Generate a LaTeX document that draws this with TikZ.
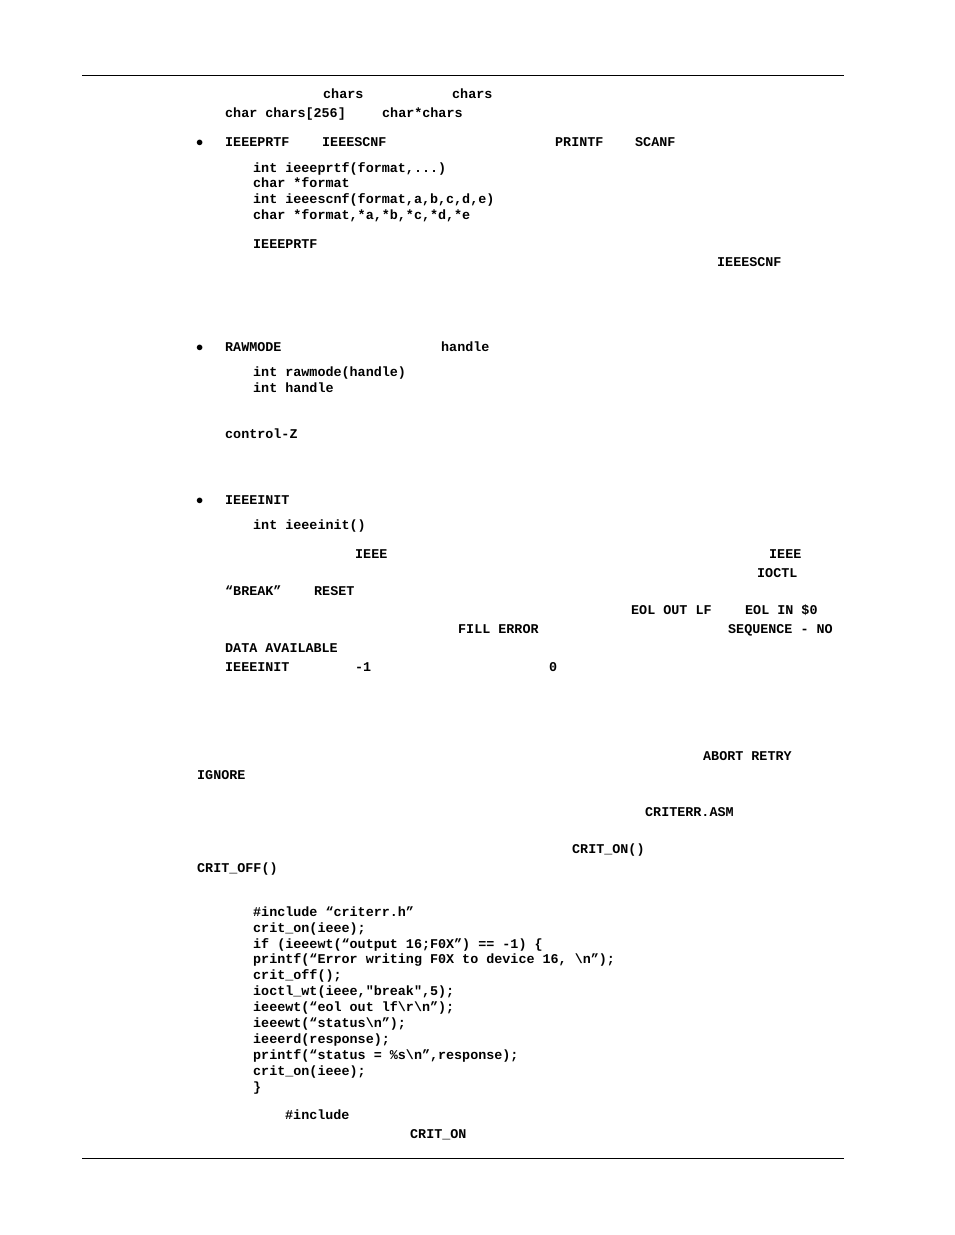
\documentclass[tikz,border=0pt]{standalone}
\usepackage{fontspec}
\setmonofont{Liberation Mono}
\newcount\tcnt
\newcommand{\tx}[3]{\global\advance\tcnt by 1\node[txt] (t\the\tcnt) at (#1pt,-#2pt-4.5pt) {#3};}
\begin{document}
\begin{tikzpicture}[x=1pt,y=1pt,txt/.style={anchor=base west,inner sep=0pt,font=\fontsize{13.4pt}{16pt}\ttfamily\bfseries}]
\useasboundingbox[fill=white] (0,0) rectangle (954,-1235);
\draw[line width=0.8pt] (82,-75) -- (844,-75);
\draw[line width=0.8pt] (82,-1158) -- (844,-1158);
\tx{323}{94}{chars}\tx{452}{94}{chars}
\tx{225}{113}{char chars[256]}\tx{382}{113}{char*chars}
\tx{196}{142}{$\bullet$}\tx{225}{142}{IEEEPRTF}\tx{322}{142}{IEEESCNF}\tx{555}{142}{PRINTF}\tx{635}{142}{SCANF}
\tx{253}{168}{int ieeeprtf(format,...)}
\tx{253}{183}{char *format}
\tx{253}{199}{int ieeescnf(format,a,b,c,d,e)}
\tx{253}{215}{char *format,*a,*b,*c,*d,*e}
\tx{253}{244}{IEEEPRTF}
\tx{717}{262}{IEEESCNF}
\tx{196}{347}{$\bullet$}\tx{225}{347}{RAWMODE}\tx{441}{347}{handle}
\tx{253}{372}{int rawmode(handle)}
\tx{253}{388}{int handle}
\tx{225}{434}{control-Z}
\tx{196}{500}{$\bullet$}\tx{225}{500}{IEEEINIT}
\tx{253}{525}{int ieeeinit()}
\tx{355}{554}{IEEE}\tx{769}{554}{IEEE}
\tx{757}{573}{IOCTL}
\tx{225}{591}{“BREAK”}\tx{314}{591}{RESET}
\tx{631}{610}{EOL OUT LF}\tx{745}{610}{EOL IN \$0}
\tx{458}{629}{FILL ERROR}\tx{728}{629}{SEQUENCE - NO}
\tx{225}{648}{DATA AVAILABLE}
\tx{225}{667}{IEEEINIT}\tx{355}{667}{-1}\tx{549}{667}{0}
\tx{703}{756}{ABORT RETRY}
\tx{197}{775}{IGNORE}
\tx{645}{812}{CRITERR.ASM}
\tx{572}{849}{CRIT\_ON()}
\tx{197}{868}{CRIT\_OFF()}
\tx{253}{912}{\#include “criterr.h”}
\tx{253}{928}{crit\_on(ieee);}
\tx{253}{944}{if (ieeewt(“output 16;F0X”) == -1) \{}
\tx{253}{959}{printf(“Error writing F0X to device 16, \textbackslash n”);}
\tx{253}{975}{crit\_off();}
\tx{253}{991}{ioctl\_wt(ieee,"break",5);}
\tx{253}{1007}{ieeewt(“eol out lf\textbackslash r\textbackslash n”);}
\tx{253}{1023}{ieeewt(“status\textbackslash n”);}
\tx{253}{1039}{ieeerd(response);}
\tx{253}{1055}{printf(“status = \%s\textbackslash n”,response);}
\tx{253}{1071}{crit\_on(ieee);}
\tx{253}{1087}{\}}
\tx{285}{1115}{\#include}
\tx{410}{1134}{CRIT\_ON}
\end{tikzpicture}
\end{document}
